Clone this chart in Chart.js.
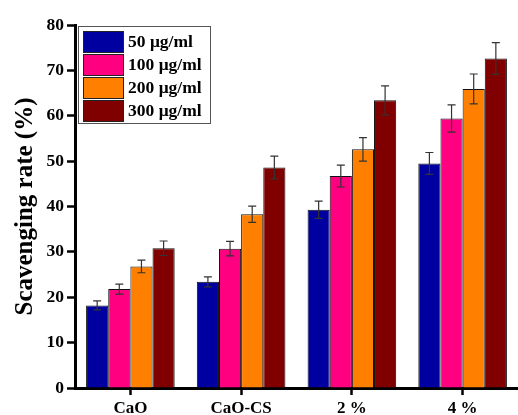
<!DOCTYPE html>
<html>
<head>
<meta charset="utf-8">
<script src="https://cdn.jsdelivr.net/npm/chart.js@4/dist/chart.umd.min.js"></script>
<style>
  html, body { margin: 0; padding: 0; background: #fff; }
  #wrap { width: 518px; height: 415px; position: relative; }
</style>
</head>
<body>
<div id="wrap"><canvas id="c"></canvas></div>
<script>
// samples on the x axis
const samples = ["CaO", "CaO-CS", "2 %", "4 %"];

// concentrations (legend labels) and bar colours
const doses  = ["50 μg/ml", "100 μg/ml", "200 μg/ml", "300 μg/ml"];
const colors = ["#0000A0", "#FF0080", "#FF8000", "#800000"];

// scavenging rate (%) per dose, one value per sample
const rate50  = [18.2, 23.4, 39.3, 49.5];
const rate100 = [21.8, 30.7, 46.7, 59.4];
const rate200 = [26.8, 38.3, 52.6, 65.9];
const rate300 = [30.8, 48.6, 63.4, 72.6];

// standard deviations for the error bars
const sd50  = [1.0, 1.1, 1.9, 2.4];
const sd100 = [1.1, 1.6, 2.4, 3.0];
const sd200 = [1.4, 1.8, 2.6, 3.3];
const sd300 = [1.6, 2.5, 3.2, 3.5];

const yTicks = { min: 0, max: 80, step: 10 };

const FONT = '"Liberation Serif", "Times New Roman", serif';

const rates = [rate50, rate100, rate200, rate300];
const sds   = [sd50, sd100, sd200, sd300];

const datasets = doses.map((d, i) => ({
  label: d,
  data: rates[i],
  sd: sds[i],
  backgroundColor: colors[i],
  borderColor: "#111",
  borderWidth: 1,
  categoryPercentage: 0.8,
  barPercentage: 1.0
}));

// error bars: vertical line + caps at value ± sd
const errorBars = {
  id: "errorBars",
  afterDatasetsDraw(chart) {
    const ctx = chart.ctx, y = chart.scales.y;
    ctx.save();
    ctx.strokeStyle = "#333";
    ctx.lineWidth = 1.2;
    chart.data.datasets.forEach((ds, di) => {
      const meta = chart.getDatasetMeta(di);
      meta.data.forEach((bar, j) => {
        const v = ds.data[j], e = ds.sd[j];
        const yt = y.getPixelForValue(v + e);
        const yb = y.getPixelForValue(v - e);
        const x = bar.x, cap = 4;
        ctx.beginPath();
        ctx.moveTo(x, yt); ctx.lineTo(x, yb);
        ctx.moveTo(x - cap, yt); ctx.lineTo(x + cap, yt);
        ctx.moveTo(x - cap, yb); ctx.lineTo(x + cap, yb);
        ctx.stroke();
      });
    });
    ctx.restore();
  }
};

// boxed legend in the upper-left corner of the plot
const boxLegend = {
  id: "boxLegend",
  afterDraw(chart) {
    const ctx = chart.ctx, a = chart.chartArea;
    const x0 = a.left + 3, y0 = a.top + 1, w = 132, h = 97;
    ctx.save();
    ctx.fillStyle = "#fff";
    ctx.fillRect(x0, y0, w, h);
    ctx.strokeStyle = "#555";
    ctx.lineWidth = 1;
    ctx.strokeRect(x0 + 0.5, y0 + 0.5, w, h);
    ctx.font = "bold 17.5px " + FONT;
    ctx.textBaseline = "middle";
    chart.data.datasets.forEach((ds, i) => {
      const sy = y0 + 5 + i * 23;
      ctx.fillStyle = ds.backgroundColor;
      ctx.fillRect(x0 + 5, sy, 40, 21);
      ctx.strokeStyle = "#222";
      ctx.strokeRect(x0 + 5.5, sy + 0.5, 40, 21);
      ctx.fillStyle = "#000";
      ctx.fillText(ds.label, x0 + 50, sy + 11);
    });
    ctx.restore();
  }
};

new Chart(document.getElementById("c"), {
  type: "bar",
  data: { labels: samples, datasets },
  plugins: [errorBars, boxLegend],
  options: {
    responsive: true,
    maintainAspectRatio: false,
    animation: false,
    layout: { padding: { top: 25, right: 0, left: 0, bottom: 0 } },
    plugins: { legend: { display: false }, tooltip: { enabled: false } },
    scales: {
      x: {
        afterFit: s => { s.height = 27; },
        grid: { offset: false, drawOnChartArea: false, tickLength: 7, tickWidth: 2.5, color: "#000" },
        border: { display: true, width: 3, color: "#000" },
        ticks: { color: "#000", padding: 3, font: { family: FONT, size: 17, weight: "bold" } }
      },
      y: {
        min: yTicks.min, max: yTicks.max,
        afterFit: s => { s.width = 75; },
        grid: { drawOnChartArea: false, tickLength: 8, tickWidth: 2.5, color: "#000" },
        border: { display: true, width: 3, color: "#000" },
        ticks: { stepSize: yTicks.step, color: "#000", padding: 3, font: { family: FONT, size: 17.5, weight: "bold" } },
        title: {
          display: true, text: "Scavenging rate (%)", color: "#000",
          padding: { top: 11, bottom: 0 },
          font: { family: FONT, size: 25, weight: "bold" }
        }
      }
    }
  }
});
</script>
</body>
</html>
